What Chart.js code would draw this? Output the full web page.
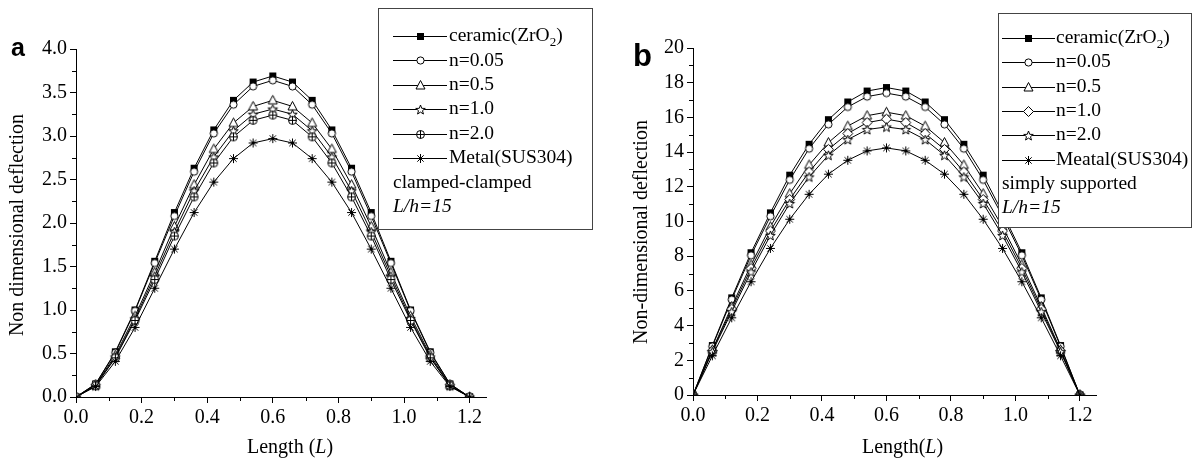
<!DOCTYPE html>
<html>
<head>
<meta charset="utf-8">
<script src="https://cdn.jsdelivr.net/npm/chart.js@4.4.1/dist/chart.umd.min.js"></script>
<style>
  body { margin: 0; background: #fff; }
  #wrap { position: relative; width: 1197px; height: 462px; }
  canvas { position: absolute; top: 0; }
</style>
</head>
<body>
<div id="wrap">
  <canvas id="chartA" width="598" height="462" style="left:0"></canvas>
  <canvas id="chartB" width="599" height="462" style="left:598px"></canvas>
</div>
<script>
// x positions along the beam
const lengths = [0, 0.06, 0.12, 0.18, 0.24, 0.30, 0.36, 0.42, 0.48, 0.54, 0.60,
                 0.66, 0.72, 0.78, 0.84, 0.90, 0.96, 1.02, 1.08, 1.14, 1.20]

// panel a : clamped-clamped
const ceramicA = [0, 0.15, 0.52, 1.00, 1.56, 2.12, 2.63, 3.07, 3.41, 3.62, 3.69, 3.62, 3.41, 3.07, 2.63, 2.12, 1.56, 1.00, 0.52, 0.15, 0]
const n005A    = [0, 0.15, 0.51, 0.99, 1.54, 2.08, 2.59, 3.03, 3.36, 3.57, 3.64, 3.57, 3.36, 3.03, 2.59, 2.08, 1.54, 0.99, 0.51, 0.15, 0]
const n05A     = [0, 0.14, 0.48, 0.93, 1.43, 1.96, 2.44, 2.85, 3.15, 3.34, 3.41, 3.34, 3.15, 2.85, 2.44, 1.96, 1.43, 0.93, 0.48, 0.14, 0]
const n1A      = [0, 0.13, 0.46, 0.90, 1.39, 1.90, 2.37, 2.76, 3.06, 3.25, 3.31, 3.25, 3.06, 2.76, 2.37, 1.90, 1.39, 0.90, 0.46, 0.13, 0]
const n2A      = [0, 0.13, 0.45, 0.88, 1.35, 1.85, 2.30, 2.69, 2.99, 3.18, 3.24, 3.18, 2.99, 2.69, 2.30, 1.85, 1.35, 0.88, 0.45, 0.13, 0]
const metalA   = [0, 0.12, 0.41, 0.80, 1.25, 1.70, 2.12, 2.47, 2.74, 2.92, 2.97, 2.92, 2.74, 2.47, 2.12, 1.70, 1.25, 0.80, 0.41, 0.12, 0]

// panel b : simply supported
const ceramicB = [0, 2.85, 5.60, 8.20, 10.50, 12.67, 14.45, 15.87, 16.89, 17.52, 17.72, 17.52, 16.89, 15.87, 14.45, 12.67, 10.50, 8.20, 5.60, 2.85, 0]
const n005B    = [0, 2.80, 5.50, 8.05, 10.30, 12.40, 14.20, 15.60, 16.60, 17.20, 17.40, 17.20, 16.60, 15.60, 14.20, 12.40, 10.30, 8.05, 5.50, 2.80, 0]
const n05B     = [0, 2.60, 5.10, 7.50, 9.70, 11.60, 13.26, 14.55, 15.50, 16.10, 16.30, 16.10, 15.50, 14.55, 13.26, 11.60, 9.70, 7.50, 5.10, 2.60, 0]
const n1B      = [0, 2.55, 4.95, 7.30, 9.45, 11.27, 12.86, 14.16, 15.07, 15.70, 15.90, 15.70, 15.07, 14.16, 12.86, 11.27, 9.45, 7.30, 4.95, 2.55, 0]
const n2B      = [0, 2.50, 4.80, 7.10, 9.20, 11.04, 12.57, 13.82, 14.72, 15.30, 15.45, 15.30, 14.72, 13.82, 12.57, 11.04, 9.20, 7.10, 4.80, 2.50, 0]
const metalB   = [0, 2.26, 4.45, 6.53, 8.45, 10.13, 11.57, 12.73, 13.53, 14.07, 14.24, 14.07, 13.53, 12.73, 11.57, 10.13, 8.45, 6.53, 4.45, 2.26, 0]

const labelsA = ['ceramic(ZrO2)', 'n=0.05', 'n=0.5', 'n=1.0', 'n=2.0', 'Metal(SUS304)']
const labelsB = ['ceramic(ZrO2)', 'n=0.05', 'n=0.5', 'n=1.0', 'n=2.0', 'Meatal(SUS304)']

const xMajorTicks = [0, 0.2, 0.4, 0.6, 0.8, 1.0, 1.2]
const xMinorTicks = [0.1, 0.3, 0.5, 0.7, 0.9, 1.1]
const yMajorTicksA = [0, 0.5, 1.0, 1.5, 2.0, 2.5, 3.0, 3.5, 4.0]
const yMinorTicksA = [0.25, 0.75, 1.25, 1.75, 2.25, 2.75, 3.25, 3.75]
const yMajorTicksB = [0, 2, 4, 6, 8, 10, 12, 14, 16, 18, 20]
const yMinorTicksB = [1, 3, 5, 7, 9, 11, 13, 15, 17, 19]

const SERIF = "'Liberation Serif', 'DejaVu Serif', serif"
const FS = 20
const LEG_FS = 19.5

// small canvases used as point markers (also reused in the legend)
function makeMarker(kind) {
  const c = document.createElement('canvas')
  c.width = 13; c.height = 13
  const g = c.getContext('2d')
  const m = 6.5
  g.lineWidth = 1
  g.strokeStyle = '#000'
  g.fillStyle = '#fff'
  g.beginPath()
  if (kind === 'square') {
    g.fillStyle = '#000'
    g.fillRect(3, 3, 7, 7)
    return c
  } else if (kind === 'circle') {
    g.arc(m, m, 3.6, 0, Math.PI * 2)
  } else if (kind === 'triangle') {
    g.moveTo(m, 1.5); g.lineTo(11, 10); g.lineTo(2, 10); g.closePath()
  } else if (kind === 'diamond') {
    g.moveTo(m, 1.5); g.lineTo(11.5, m); g.lineTo(m, 11.5); g.lineTo(1.5, m); g.closePath()
  } else if (kind === 'star') {
    for (let i = 0; i < 10; i++) {
      const r = i % 2 ? 2.1 : 5
      const a = -Math.PI / 2 + i * Math.PI / 5
      const px = m + r * Math.cos(a), py = m + 0.5 + r * Math.sin(a)
      i ? g.lineTo(px, py) : g.moveTo(px, py)
    }
    g.closePath()
  } else if (kind === 'circlePlus') {
    g.arc(m, m, 4, 0, Math.PI * 2)
    g.fill(); g.stroke()
    g.beginPath()
    g.moveTo(2.5, m); g.lineTo(10.5, m)
    g.moveTo(m, 2.5); g.lineTo(m, 10.5)
    g.stroke()
    return c
  } else if (kind === 'asterisk') {
    for (let i = 0; i < 4; i++) {
      const a = i * Math.PI / 4
      g.moveTo(m - 4.5 * Math.cos(a), m - 4.5 * Math.sin(a))
      g.lineTo(m + 4.5 * Math.cos(a), m + 4.5 * Math.sin(a))
    }
    g.stroke()
    return c
  }
  g.fill()
  g.stroke()
  return c
}

const markersA = ['square', 'circle', 'triangle', 'star', 'circlePlus', 'asterisk'].map(makeMarker)
const markersB = ['square', 'circle', 'triangle', 'diamond', 'star', 'asterisk'].map(makeMarker)

function legendText(ctx, text, x, y) {
  // ZrO2 gets a subscript 2
  if (text === 'ceramic(ZrO2)') {
    ctx.font = LEG_FS + 'px ' + SERIF
    ctx.fillText('ceramic(ZrO', x, y)
    let w = ctx.measureText('ceramic(ZrO').width
    ctx.font = '13px ' + SERIF
    ctx.fillText('2', x + w, y + 7)
    w += ctx.measureText('2').width
    ctx.font = LEG_FS + 'px ' + SERIF
    ctx.fillText(')', x + w, y)
  } else {
    ctx.font = LEG_FS + 'px ' + SERIF
    ctx.fillText(text, x, y)
  }
}

const decorations = {
  id: 'decorations',
  afterDraw(chart, args, cfg) {
    const ctx = chart.ctx
    const xs = chart.scales.x, ys = chart.scales.y
    ctx.save()
    // minor ticks
    ctx.strokeStyle = '#000'
    ctx.lineWidth = 1
    ctx.beginPath()
    cfg.xMinor.forEach(v => {
      const px = Math.round(xs.getPixelForValue(v)) + 0.5
      ctx.moveTo(px, ys.bottom); ctx.lineTo(px, ys.bottom + 4)
    })
    cfg.yMinor.forEach(v => {
      const py = Math.round(ys.getPixelForValue(v)) + 0.5
      ctx.moveTo(xs.left, py); ctx.lineTo(xs.left - 4, py)
    })
    ctx.stroke()

    ctx.translate(-cfg.off, 0)
    ctx.fillStyle = '#000'

    // panel letter
    ctx.font = 'bold ' + cfg.letter.size + "px 'Liberation Sans', Arial, sans-serif"
    ctx.textBaseline = 'alphabetic'
    ctx.textAlign = 'left'
    ctx.fillText(cfg.letter.text, cfg.letter.x, cfg.letter.y)

    // y title
    ctx.save()
    ctx.translate(cfg.yTitle.x, cfg.yTitle.y)
    ctx.rotate(-Math.PI / 2)
    ctx.textAlign = 'center'
    ctx.textBaseline = 'middle'
    ctx.font = FS + 'px ' + SERIF
    ctx.fillText(cfg.yTitle.text, 0, 0)
    ctx.restore()

    // x title with italic L
    let tx = cfg.xTitle.x
    cfg.xTitle.parts.forEach(([t, it]) => {
      ctx.font = (it ? 'italic ' : '') + FS + 'px ' + SERIF
      ctx.fillText(t, tx, cfg.xTitle.y)
      tx += ctx.measureText(t).width
    })

    // legend box
    const lg = cfg.legend
    const [bx0, by0, bx1, by1] = lg.box
    ctx.fillStyle = '#fff'
    ctx.fillRect(bx0, by0, bx1 - bx0, by1 - by0)
    ctx.strokeStyle = '#444'
    ctx.strokeRect(bx0 + 0.5, by0 + 0.5, bx1 - bx0, by1 - by0)
    ctx.fillStyle = '#000'
    ctx.strokeStyle = '#000'
    ctx.textBaseline = 'middle'
    lg.labels.forEach((lab, i) => {
      const y = lg.y0 + i * lg.dy
      const py = Math.round(y) + 0.5
      ctx.beginPath()
      ctx.moveTo(lg.lineX[0], py); ctx.lineTo(lg.lineX[1], py)
      ctx.stroke()
      const mk = lg.markers[i]
      ctx.drawImage(mk, Math.round(lg.markX - mk.width / 2), Math.round(py - mk.height / 2))
      legendText(ctx, lab, lg.textX, y)
    })
    const n = lg.labels.length
    ctx.font = LEG_FS + 'px ' + SERIF
    ctx.fillText(lg.extra[0], lg.extra0X, lg.y0 + n * lg.dy)
    ctx.font = 'italic ' + LEG_FS + 'px ' + SERIF
    ctx.fillText(lg.extra[1], lg.extra0X, lg.y0 + (n + 1) * lg.dy)
    ctx.restore()
  }
}

function buildChart(id, p) {
  const series = p.series.map((vals, i) => ({
    label: p.labels[i],
    data: vals.map((v, k) => ({ x: lengths[k], y: v })),
    borderColor: '#000',
    borderWidth: 1,
    pointStyle: p.markers[i],
    pointRadius: 4,
    tension: 0,
    fill: false,
    order: p.series.length - i
  }))
  const tickFont = { family: SERIF, size: FS }
  return new Chart(document.getElementById(id), {
    type: 'line',
    data: { datasets: series },
    plugins: [decorations],
    options: {
      responsive: false,
      animation: false,
      layout: { padding: { left: 0, top: p.area.top, right: p.canvasW - (p.area.right - p.off), bottom: 0 } },
      scales: {
        x: {
          type: 'linear',
          min: 0,
          max: p.xMax,
          afterBuildTicks: s => { s.ticks = xMajorTicks.map(v => ({ value: v })) },
          afterFit: s => { s.height = 462 - p.area.bottom },
          ticks: { color: '#000', font: tickFont, padding: 3, maxRotation: 0, callback: v => v.toFixed(1) },
          grid: { drawOnChartArea: false, color: '#000', tickLength: 6 },
          border: { color: '#000', width: 1 }
        },
        y: {
          min: 0,
          max: p.yMax,
          afterBuildTicks: s => { s.ticks = p.yMajor.map(v => ({ value: v })) },
          afterFit: s => { s.width = p.area.left - p.off },
          ticks: { color: '#000', font: tickFont, padding: 3, callback: p.yFmt },
          grid: { drawOnChartArea: false, color: '#000', tickLength: 6 },
          border: { color: '#000', width: 1 }
        }
      },
      plugins: {
        legend: { display: false },
        tooltip: { enabled: false },
        decorations: {
          off: p.off,
          xMinor: xMinorTicks,
          yMinor: p.yMinor,
          letter: p.letter,
          yTitle: p.yTitle,
          xTitle: p.xTitle,
          legend: p.legend
        }
      }
    }
  })
}

buildChart('chartA', {
  off: 0, canvasW: 598,
  series: [ceramicA, n005A, n05A, n1A, n2A, metalA],
  labels: labelsA, markers: markersA,
  area: { left: 76, top: 49, right: 486, bottom: 397 },
  xMax: 1.25, yMax: 4, yMajor: yMajorTicksA, yMinor: yMinorTicksA,
  yFmt: v => v.toFixed(1),
  letter: { text: 'a', x: 11, y: 56, size: 25 },
  yTitle: { text: 'Non dimensional deflection', x: 18, y: 225 },
  xTitle: { parts: [['Length (', false], ['L', true], [')', false]], x: 247, y: 453 },
  legend: {
    box: [378, 8, 592, 229], labels: labelsA, markers: markersA,
    y0: 36, dy: 24.4, lineX: [393, 447], markX: 420, textX: 449,
    extra: ['clamped-clamped', 'L/h=15'], extra0X: 393
  }
})

buildChart('chartB', {
  off: 598, canvasW: 599,
  series: [ceramicB, n005B, n05B, n1B, n2B, metalB],
  labels: labelsB, markers: markersB,
  area: { left: 693, top: 48, right: 1096, bottom: 395 },
  xMax: 1.25, yMax: 20, yMajor: yMajorTicksB, yMinor: yMinorTicksB,
  yFmt: v => String(v),
  letter: { text: 'b', x: 633, y: 66, size: 31 },
  yTitle: { text: 'Non-dimensional deflection', x: 642, y: 232 },
  xTitle: { parts: [['Length(', false], ['L', true], [')', false]], x: 862, y: 453 },
  legend: {
    box: [998, 13, 1191, 227], labels: labelsB, markers: markersB,
    y0: 38, dy: 24.3, lineX: [1002, 1055], markX: 1028, textX: 1056,
    extra: ['simply supported', 'L/h=15'], extra0X: 1002
  }
})
</script>
</body>
</html>
